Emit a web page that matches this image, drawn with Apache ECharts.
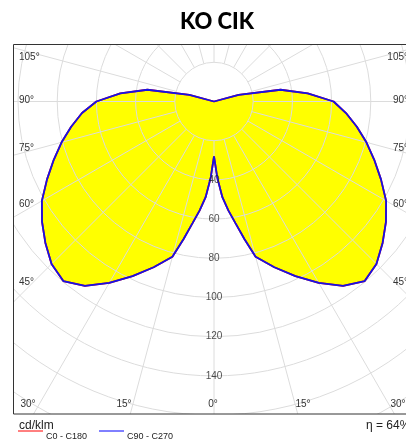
<!DOCTYPE html>
<html>
<head>
<meta charset="utf-8">
<script src="https://cdn.jsdelivr.net/npm/echarts@6/dist/echarts.min.js"></script>
<style>
  html, body { margin: 0; padding: 0; background: #fff; }
  #chart { width: 406px; height: 440px; }
</style>
</head>
<body>
<div id="chart"></div>
<script>
// gamma angles (deg from nadir) and intensities in cd/klm
const gamma = [0, 2.5, 5, 7.5, 10, 12.5, 15, 20, 25, 30, 35, 40, 45, 50, 55, 60, 65, 70, 75, 80, 85, 90, 95, 100, 105, 110, 120, 135, 150, 165, 180];
const c90   = [28, 39, 49, 56, 63, 72, 82, 90, 98.3, 106.9, 114.8, 119.6, 117.2, 112.3, 107.1, 101.4, 94, 87, 80.5, 74, 67.6, 61, 48, 34.5, 13, 0, 0, 0, 0, 0, 0];
const c270  = [28, 39, 49, 56, 63, 72, 82, 90, 98.3, 106.9, 114.8, 119.6, 117.2, 112.3, 107.1, 101.4, 94, 87, 80.5, 74, 67.6, 60, 48, 34.5, 13, 0, 0, 0, 0, 0, 0];
const c0    = c90;
const c180  = c270;

const radiusTicks = [40, 60, 80, 100, 120, 140];
const sideLabels = ['105°', '90°', '75°', '60°', '45°'];
const bottomLabels = ['30°', '15°', '0°', '15°', '30°'];

// layout
const CX = 214, CY = 101.5, R = 392;
const sideY = [57, 100, 148, 204, 282];
const bottomX = [28, 124, 213, 303, 398];

function closedCurve(right, left) {
  const pts = gamma.map((g, i) => [right[i], g]);
  for (let i = gamma.length - 1; i >= 0; i--) pts.push([left[i], 360 - gamma[i]]);
  return pts;
}

const curveBlue = closedCurve(c90, c270);
const curveRed = closedCurve(c0, c180);

const txt = { fontFamily: 'Liberation Sans', fontSize: 10, fill: '#333' };
const graphics = [
  { type: 'rect', z: 100, shape: { x: 0, y: 0, width: 406, height: 44 }, style: { fill: '#fff' } },
  { type: 'rect', z: 100, shape: { x: 0, y: 0, width: 13, height: 440 }, style: { fill: '#fff' } },
  { type: 'rect', z: 100, shape: { x: 0, y: 414, width: 406, height: 26 }, style: { fill: '#fff' } },
  { type: 'rect', z: 101, shape: { x: 13.5, y: 44.5, width: 402, height: 369.5 }, style: { fill: 'none', stroke: '#333', lineWidth: 1 } },
  { type: 'text', z: 102, x: 217, y: 22, style: { text: 'KO CIK', font: '900 22px Lato', fill: '#000', align: 'center', verticalAlign: 'middle' } },
  { type: 'text', z: 102, x: 19, y: 426, style: { text: 'cd/klm', fontFamily: 'Liberation Sans', fontSize: 12, fill: '#222', verticalAlign: 'middle' } },
  { type: 'text', z: 102, x: 366, y: 426, style: { text: 'η = 64%', fontFamily: 'Liberation Sans', fontSize: 12, fill: '#222', verticalAlign: 'middle' } },
  { type: 'line', z: 102, shape: { x1: 18, y1: 431, x2: 43, y2: 431 }, style: { stroke: '#f00', lineWidth: 1 } },
  { type: 'text', z: 102, x: 46, y: 437, style: { text: 'C0 - C180', fontFamily: 'Liberation Sans', fontSize: 9, fill: '#222', verticalAlign: 'middle' } },
  { type: 'line', z: 102, shape: { x1: 99, y1: 431, x2: 124, y2: 431 }, style: { stroke: '#00f', lineWidth: 1 } },
  { type: 'text', z: 102, x: 127, y: 437, style: { text: 'C90 - C270', fontFamily: 'Liberation Sans', fontSize: 9, fill: '#222', verticalAlign: 'middle' } }
];
sideLabels.forEach((t, i) => {
  graphics.push({ type: 'text', z: 102, x: 19, y: sideY[i], style: Object.assign({ text: t, verticalAlign: 'middle' }, txt) });
  graphics.push({ type: 'text', z: 102, x: 408, y: sideY[i], style: Object.assign({ text: t, verticalAlign: 'middle', align: 'right' }, txt) });
});
bottomLabels.forEach((t, i) => {
  graphics.push({ type: 'text', z: 102, x: bottomX[i], y: 404, style: Object.assign({ text: t, verticalAlign: 'middle', align: 'center' }, txt) });
});

const option = {
  animation: false,
  polar: [
    { center: [CX, CY], radius: R },
    { center: [CX, CY], radius: [R * 20 / 200, R] }
  ],
  angleAxis: [
    { polarIndex: 0, type: 'value', min: 0, max: 360, startAngle: 270, clockwise: false, show: false },
    {
      polarIndex: 1, type: 'value', min: 0, max: 360, interval: 15, startAngle: 270, clockwise: false, z: 2,
      axisLine: { show: false }, axisTick: { show: false }, axisLabel: { show: false },
      splitLine: { show: true, lineStyle: { color: '#dcdcdc', width: 1 } }
    }
  ],
  radiusAxis: [
    { polarIndex: 0, type: 'value', min: 0, max: 200, show: false },
    {
      polarIndex: 1, type: 'value', min: 20, max: 200, interval: 20, z: 2,
      axisLine: { show: false }, axisTick: { show: false }, axisLabel: { show: false },
      splitLine: { show: true, lineStyle: { color: '#dcdcdc', width: 1 } }
    }
  ],
  series: [
    {
      type: 'line', coordinateSystem: 'polar', polarIndex: 0, z: 1,
      data: curveBlue, symbol: 'none', lineStyle: { width: 0 },
      areaStyle: { color: '#ffff00', opacity: 1 }
    },
    {
      name: 'C0 - C180', type: 'line', coordinateSystem: 'polar', polarIndex: 0, z: 3,
      data: curveRed, symbol: 'none', lineStyle: { color: '#ff0000', width: 1.8 }
    },
    {
      name: 'C90 - C270', type: 'line', coordinateSystem: 'polar', polarIndex: 0, z: 4,
      data: curveBlue, symbol: 'none', lineStyle: { color: '#1414e6', width: 1.8 }
    },
    {
      type: 'scatter', coordinateSystem: 'polar', polarIndex: 0, z: 5,
      data: radiusTicks.map(v => [v, 0]), symbolSize: 0,
      label: { show: true, position: 'inside', formatter: p => p.value[0], color: '#222', fontSize: 10, fontFamily: 'Liberation Sans' }
    }
  ],
  graphic: { elements: graphics }
};

const chart = echarts.init(document.getElementById('chart'));
chart.setOption(option);
</script>
</body>
</html>
